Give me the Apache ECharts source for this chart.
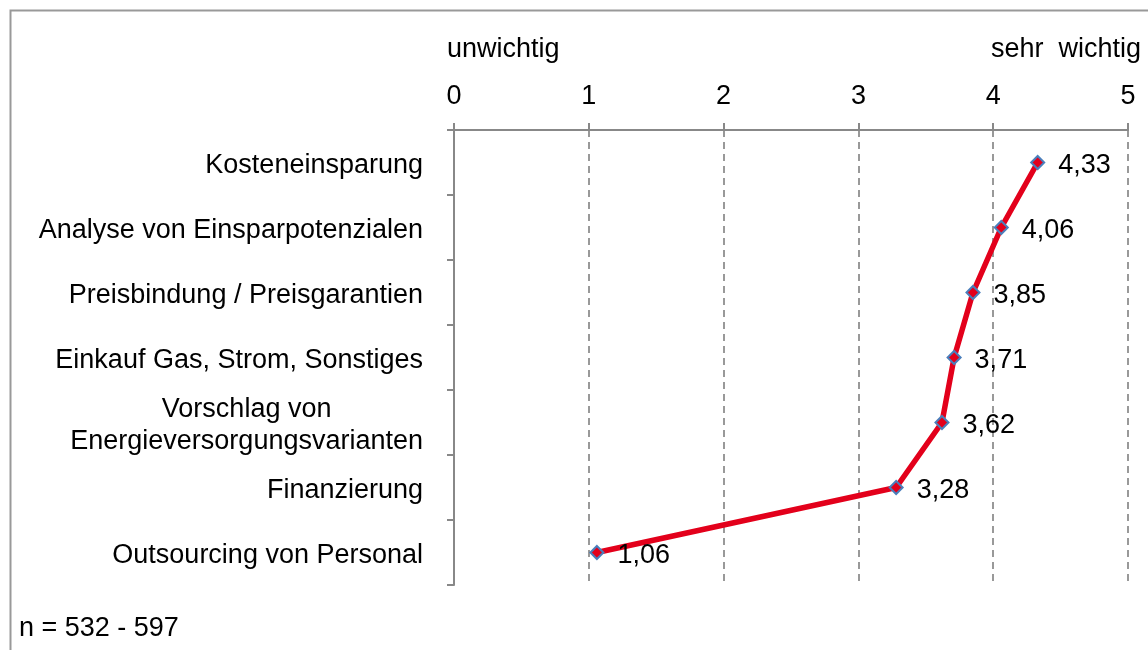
<!DOCTYPE html>
<html>
<head>
<meta charset="utf-8">
<script src="https://cdn.jsdelivr.net/npm/echarts@6/dist/echarts.min.js"></script>
<style>
html,body{margin:0;padding:0;background:#fff;}
#chart{width:1148px;height:650px;}
</style>
</head>
<body>
<div id="chart"></div>
<script>
const categories = [
  'Kosteneinsparung',
  'Analyse von Einsparpotenzialen',
  'Preisbindung / Preisgarantien',
  'Einkauf Gas, Strom, Sonstiges',
  'Vorschlag von\nEnergieversorgungsvarianten',
  'Finanzierung',
  'Outsourcing von Personal'
];
const values = [4.33, 4.06, 3.85, 3.71, 3.62, 3.28, 1.06];
const xTicks = [0, 1, 2, 3, 4, 5];
const leftLabel = 'unwichtig';
const rightLabel = 'sehr  wichtig';
const noteText = 'n = 532 - 597';

const FONT = '"Liberation Sans", Arial, sans-serif';
const FS = 27;

const chart = echarts.init(document.getElementById('chart'), null, {renderer: 'canvas'});
chart.setOption({
  animation: false,
  backgroundColor: '#fff',
  textStyle: {fontFamily: FONT},
  grid: {left: 454, right: 20, top: 130, bottom: 65, containLabel: false},
  graphic: [
    {type: 'rect', shape: {x: 10.5, y: 10.5, width: 1300, height: 800},
     style: {fill: 'none', stroke: '#999', lineWidth: 2}, silent: true, z: -10},
    {type: 'text', left: 447, top: 48 - 12,
     style: {text: leftLabel, font: FS + 'px ' + FONT, fill: '#000'}},
    {type: 'text', right: 7, top: 48 - 12,
     style: {text: rightLabel, font: FS + 'px ' + FONT, fill: '#000', textAlign: 'right'}},
    {type: 'text', left: 19, top: 627 - 12,
     style: {text: noteText, font: FS + 'px ' + FONT, fill: '#000'}}
  ],
  xAxis: {
    type: 'value',
    position: 'top',
    min: 0, max: 5, interval: 1,
    axisLine: {show: true, lineStyle: {color: '#888', width: 2}},
    axisTick: {show: true, length: 7, inside: false, lineStyle: {color: '#888', width: 2}},
    axisLabel: {
      margin: 20, fontSize: FS, color: '#000', fontFamily: FONT,
      formatter: function (v) { return xTicks.indexOf(v) >= 0 ? String(v) : ''; }
    },
    splitLine: {show: true, lineStyle: {color: '#999', width: 2, type: [7, 5]}}
  },
  yAxis: {
    type: 'category',
    inverse: true,
    data: categories,
    boundaryGap: true,
    axisLine: {show: true, lineStyle: {color: '#888', width: 2}},
    axisTick: {show: true, length: 7, inside: false, alignWithLabel: false, lineStyle: {color: '#888', width: 2}},
    axisLabel: {
      margin: 31, fontSize: FS, color: '#000', fontFamily: FONT, lineHeight: 32,
      padding: [6, 0, 0, 0],
      formatter: function (v) {
        if (v.indexOf('\n') >= 0) {
          return v.split('\n').map(function (s) { return '{c|' + s + '}'; }).join('\n');
        }
        return v;
      },
      rich: {c: {align: 'center', fontSize: FS, fontFamily: FONT, color: '#000', lineHeight: 32}}
    },
    splitLine: {show: false}
  },
  series: [{
    type: 'line',
    data: values,
    symbol: 'diamond',
    symbolSize: 13,
    lineStyle: {color: '#e3001b', width: 5.5},
    itemStyle: {color: '#e3001b', borderColor: '#4a7ebb', borderWidth: 2},
    label: {
      show: true, position: 'right', distance: 13, offset: [0, 3],
      fontSize: FS, color: '#000', fontFamily: FONT,
      formatter: function (p) { return p.value.toFixed(2).replace('.', ','); }
    },
    z: 5
  }]
});
</script>
</body>
</html>
